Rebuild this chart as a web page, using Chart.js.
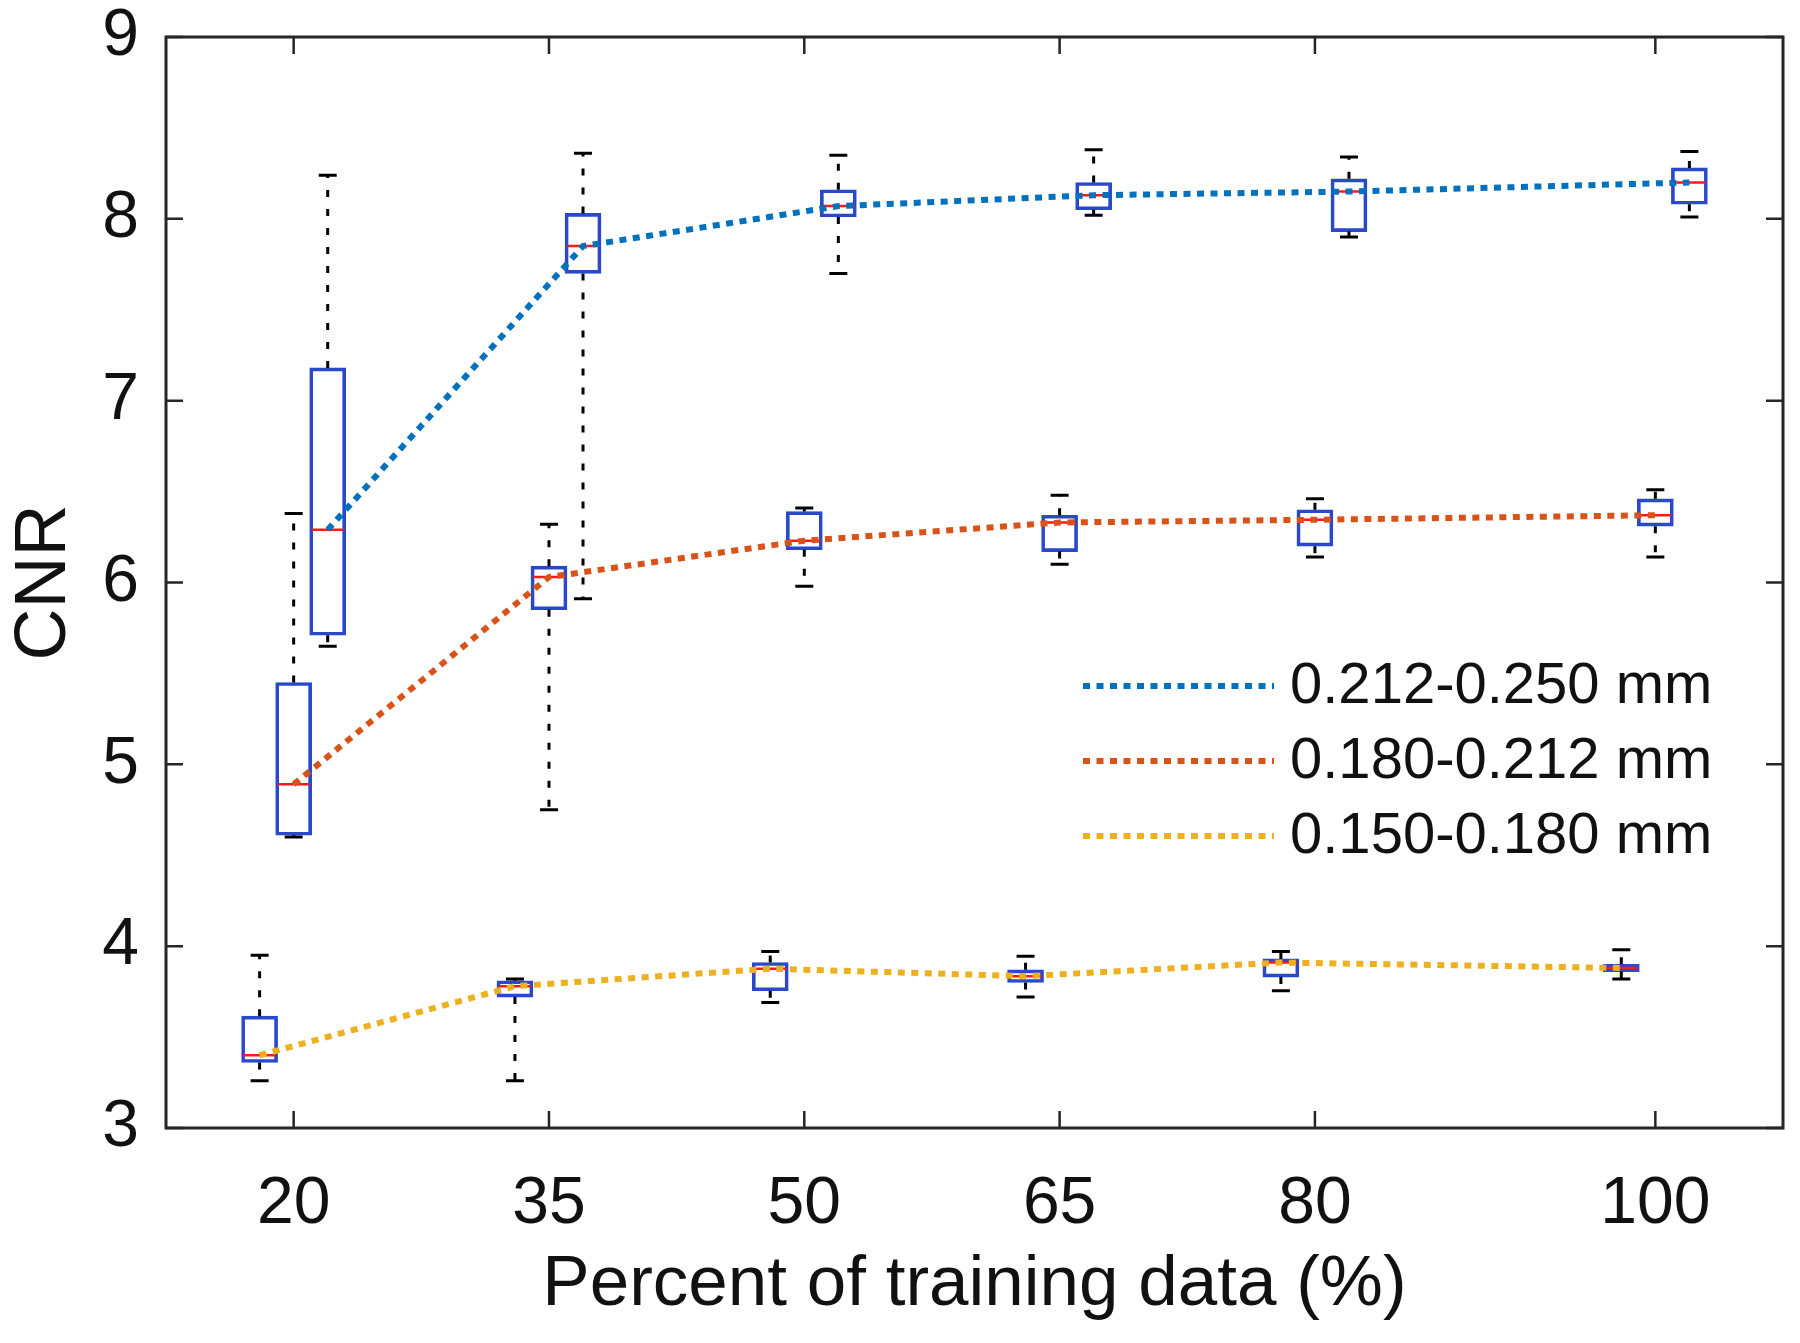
<!DOCTYPE html>
<html>
<head>
<meta charset="utf-8">
<script src="https://cdn.jsdelivr.net/npm/chart.js@4.4.1/dist/chart.umd.min.js"></script>
<style>
html,body{margin:0;padding:0;background:#ffffff;}
#wrap{width:1800px;height:1343px;position:relative;}
</style>
</head>
<body>
<div id="wrap"><canvas id="c" width="1800" height="1343"></canvas></div>
<script>
// ---- data ----
const categories = [20, 35, 50, 65, 80, 100];
const yTickValues = [3, 4, 5, 6, 7, 8, 9];
const seriesLabels = ['0.212-0.250 mm', '0.180-0.212 mm', '0.150-0.180 mm'];

// 0.212-0.250 mm
const coarseLow    = [5.65, 5.91, 7.70, 8.02, 7.90, 8.01];
const coarseQ1     = [5.71, 7.70, 8.01, 8.05, 7.93, 8.08];
const coarseMedian = [6.29, 7.85, 8.07, 8.13, 8.15, 8.20];
const coarseQ3     = [7.18, 8.03, 8.16, 8.20, 8.22, 8.28];
const coarseHigh   = [8.24, 8.36, 8.35, 8.38, 8.34, 8.37];

// 0.180-0.212 mm
const mediumLow    = [4.60, 4.75, 5.98, 6.10, 6.14, 6.14];
const mediumQ1     = [4.61, 5.85, 6.18, 6.17, 6.20, 6.31];
const mediumMedian = [4.89, 6.03, 6.23, 6.33, 6.345, 6.37];
const mediumQ3     = [5.45, 6.09, 6.39, 6.37, 6.40, 6.46];
const mediumHigh   = [6.38, 6.32, 6.41, 6.48, 6.46, 6.51];

// 0.150-0.180 mm
const fineLow    = [3.26, 3.26, 3.69, 3.72, 3.755, 3.82];
const fineQ1     = [3.36, 3.72, 3.755, 3.80, 3.83, 3.86];
const fineMedian = [3.40, 3.78, 3.876, 3.835, 3.91, 3.88];
const fineQ3     = [3.615, 3.81, 3.91, 3.87, 3.93, 3.90];
const fineHigh   = [3.95, 3.82, 3.97, 3.945, 3.97, 3.98];

// ---- styling / layout ----
const FONT = '"Liberation Sans", Arial, Helvetica, sans-serif';
const AXIS_COLOR = '#262626';
const TEXT_COLOR = '#111111';
const BOX_COLOR = '#2a48cc';
const MEDIAN_COLOR = '#ff1a1a';
const lineColors = ['#0072BD', '#D95319', '#EDB120'];
const boxShift = [2, 0, -2];          // horizontal shift of each group's boxes (x units)
const LINE_DASH = [7, 6.5];
const WHISKER_DASH = [7, 12];

const seriesStats = [
  {lo: coarseLow, q1: coarseQ1, med: coarseMedian, q3: coarseQ3, hi: coarseHigh},
  {lo: mediumLow, q1: mediumQ1, med: mediumMedian, q3: mediumQ3, hi: mediumHigh},
  {lo: fineLow,   q1: fineQ1,   med: fineMedian,   q3: fineQ3,   hi: fineHigh}
];

const datasets = [];
seriesStats.forEach((st, i) => {
  datasets.push({
    type: 'bar',
    label: seriesLabels[i] + ' box',
    data: categories.map((c, j) => ({x: c + boxShift[i], y: [st.q1[j], st.q3[j]]})),
    backgroundColor: 'rgba(0,0,0,0)',
    borderColor: BOX_COLOR,
    borderWidth: 3,
    borderSkipped: false,
    barThickness: 36,
    grouped: false,
    order: 3,
    stats: st,
    shift: boxShift[i]
  });
});
seriesStats.forEach((st, i) => {
  datasets.push({
    type: 'line',
    label: seriesLabels[i],
    data: categories.map((c, j) => ({x: c + boxShift[i], y: st.med[j]})),
    borderColor: lineColors[i],
    borderWidth: 6,
    borderDash: LINE_DASH,
    pointRadius: 0,
    fill: false,
    tension: 0,
    order: 1
  });
});

// whiskers, caps and medians drawn right after each box dataset
const boxDecor = {
  id: 'boxDecor',
  afterDatasetDraw(chart, args) {
    const ds = chart.data.datasets[args.index];
    if (!ds.stats) return;
    const xs = chart.scales.x, ys = chart.scales.y, ctx = chart.ctx;
    const st = ds.stats;
    const half = 18, cap = 9;
    ctx.save();
    categories.forEach((c, j) => {
      const px = xs.getPixelForValue(c + ds.shift);
      ctx.strokeStyle = '#000000';
      ctx.lineWidth = 3;
      ctx.setLineDash(WHISKER_DASH);
      ctx.beginPath();
      ctx.moveTo(px, ys.getPixelForValue(st.q3[j]));
      ctx.lineTo(px, ys.getPixelForValue(st.hi[j]));
      ctx.moveTo(px, ys.getPixelForValue(st.q1[j]));
      ctx.lineTo(px, ys.getPixelForValue(st.lo[j]));
      ctx.stroke();
      ctx.setLineDash([]);
      ctx.beginPath();
      [st.hi[j], st.lo[j]].forEach(v => {
        const py = ys.getPixelForValue(v);
        ctx.moveTo(px - cap, py);
        ctx.lineTo(px + cap, py);
      });
      ctx.stroke();
      ctx.strokeStyle = MEDIAN_COLOR;
      ctx.lineWidth = 2.5;
      ctx.beginPath();
      const pm = ys.getPixelForValue(st.med[j]);
      ctx.moveTo(px - half + 2, pm);
      ctx.lineTo(px + half - 2, pm);
      ctx.stroke();
    });
    ctx.restore();
  }
};

// axes frame, inward ticks on all four sides, legend
const frameAndLegend = {
  id: 'frameAndLegend',
  afterDraw(chart) {
    const ctx = chart.ctx, a = chart.chartArea;
    const xs = chart.scales.x, ys = chart.scales.y;
    ctx.save();
    ctx.strokeStyle = AXIS_COLOR;
    ctx.lineWidth = 2.5;
    const tl = 17;
    ctx.beginPath();
    xs.ticks.forEach(t => {
      const px = xs.getPixelForValue(t.value);
      ctx.moveTo(px, a.bottom); ctx.lineTo(px, a.bottom - tl);
      ctx.moveTo(px, a.top); ctx.lineTo(px, a.top + tl);
    });
    ys.ticks.forEach(t => {
      const py = ys.getPixelForValue(t.value);
      ctx.moveTo(a.left, py); ctx.lineTo(a.left + tl, py);
      ctx.moveTo(a.right, py); ctx.lineTo(a.right - tl, py);
    });
    ctx.stroke();
    ctx.lineWidth = 3;
    ctx.strokeRect(a.left, a.top, a.right - a.left, a.bottom - a.top);

    // legend
    const lx0 = a.left + 917, lx1 = a.left + 1108, tx = a.left + 1124;
    const rows = [a.top + 649, a.top + 724, a.top + 799];
    ctx.font = '58px ' + FONT;
    ctx.textBaseline = 'middle';
    ctx.textAlign = 'left';
    seriesLabels.forEach((lab, i) => {
      ctx.strokeStyle = lineColors[i];
      ctx.lineWidth = 6;
      ctx.setLineDash(LINE_DASH);
      ctx.beginPath();
      ctx.moveTo(lx0, rows[i]);
      ctx.lineTo(lx1, rows[i]);
      ctx.stroke();
      ctx.setLineDash([]);
      ctx.fillStyle = TEXT_COLOR;
      ctx.fillText(lab, tx, rows[i] + 1);
    });
    ctx.restore();
  }
};

Chart.defaults.font.family = FONT;
Chart.defaults.color = TEXT_COLOR;

function noEdgePadding(s) {
  s.paddingTop = 0; s.paddingBottom = 0; s.paddingLeft = 0; s.paddingRight = 0;
}

new Chart(document.getElementById('c'), {
  type: 'line',
  data: {datasets},
  plugins: [boxDecor, frameAndLegend],
  options: {
    responsive: false,
    animation: false,
    events: [],
    layout: {padding: {top: 37, right: 17, left: 0, bottom: 0}},
    plugins: {legend: {display: false}, tooltip: {enabled: false}},
    scales: {
      x: {
        type: 'linear',
        min: 12.5,
        max: 107.5,
        offset: false,
        afterBuildTicks: s => { s.ticks = categories.map(v => ({value: v})); },
        afterFit: s => { s.height = 215; noEdgePadding(s); },
        grid: {display: false, drawTicks: false, offset: false},
        border: {display: false},
        ticks: {font: {size: 66}, color: TEXT_COLOR, padding: 37, maxRotation: 0, autoSkip: false},
        title: {display: true, text: 'Percent of training data (%)', font: {size: 71}, color: TEXT_COLOR, padding: {top: 15, bottom: 15}}
      },
      y: {
        type: 'linear',
        min: 3,
        max: 9,
        beginAtZero: false,
        afterBuildTicks: s => { s.ticks = yTickValues.map(v => ({value: v})); },
        afterFit: s => { s.width = 166; noEdgePadding(s); },
        grid: {display: false, drawTicks: false},
        border: {display: false},
        ticks: {font: {size: 66}, color: TEXT_COLOR, padding: 27},
        title: {display: true, text: 'CNR', font: {size: 72}, color: TEXT_COLOR, padding: {top: 2, bottom: 2}}
      }
    }
  }
});
</script>
</body>
</html>
